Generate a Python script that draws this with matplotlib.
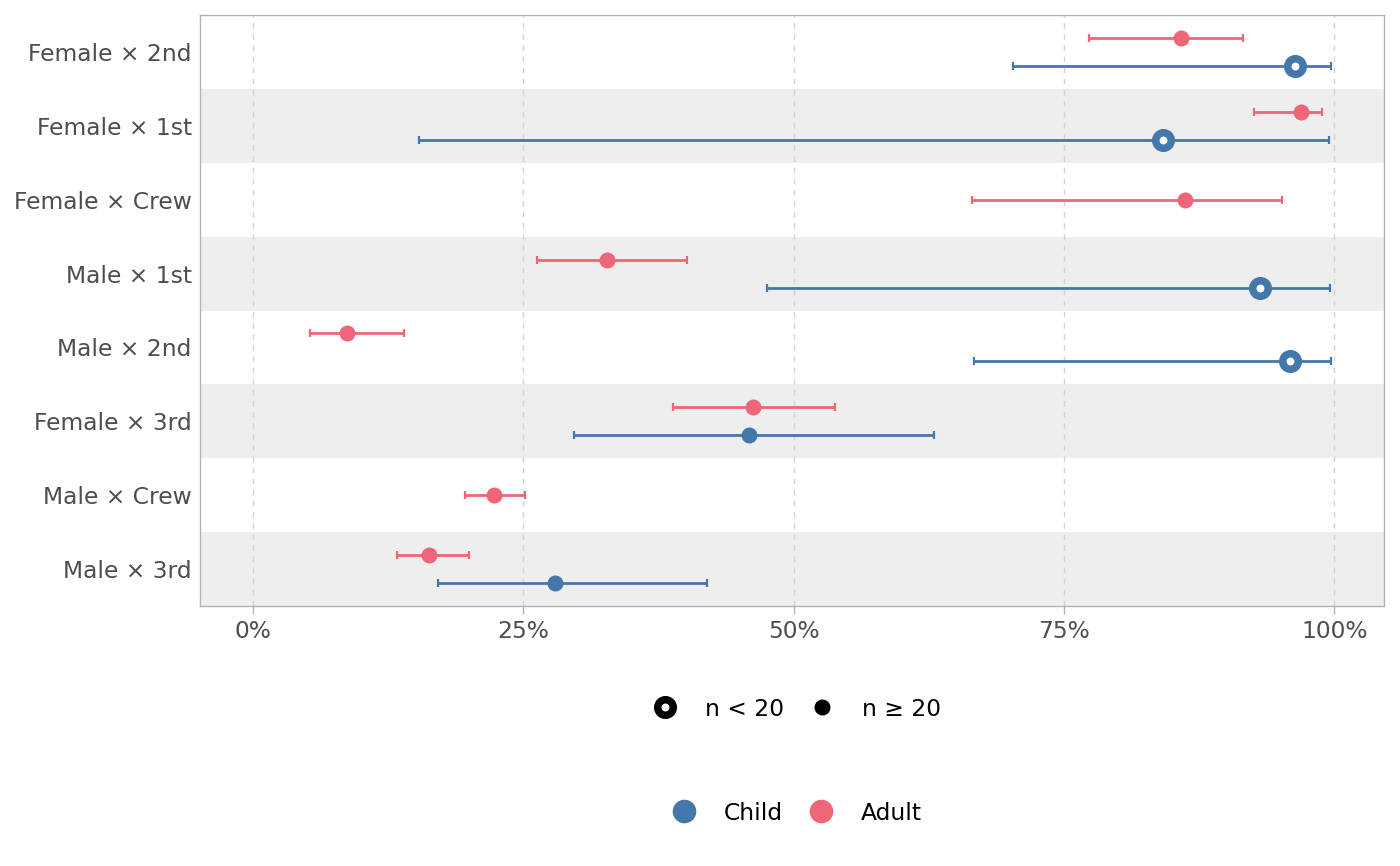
import matplotlib
matplotlib.use("Agg")
import matplotlib.pyplot as plt
from matplotlib.lines import Line2D
import numpy as np

plt.rcParams['font.family'] = ['DejaVu Sans']

categories = ["Female × 2nd", "Female × 1st", "Female × Crew", "Male × 1st",
              "Male × 2nd", "Female × 3rd", "Male × Crew", "Male × 3rd"]

adult_est = [0.858, 0.969, 0.862, 0.327, 0.087, 0.462, 0.223, 0.163]
adult_lo  = [0.773, 0.926, 0.665, 0.263, 0.053, 0.388, 0.196, 0.133]
adult_hi  = [0.916, 0.989, 0.952, 0.401, 0.140, 0.538, 0.252, 0.200]

child_est = [0.964, 0.842, None, 0.931, 0.959, 0.459, None, 0.279]
child_lo  = [0.703, 0.154, None, 0.475, 0.667, 0.297, None, 0.171]
child_hi  = [0.997, 0.995, None, 0.996, 0.997, 0.630, None, 0.420]
child_small_n = [True, True, None, True, True, False, None, False]

x_ticks = [0, 0.25, 0.5, 0.75, 1.0]
x_ticklabels = ["0%", "25%", "50%", "75%", "100%"]

BLUE = "#4477AA"
RED = "#EE6677"
DPI = 100
FS = 16.8
fig = plt.figure(figsize=(14, 8.66), dpi=DPI)
ax = fig.add_axes([200/1400, 1 - 606/866, (1384-200)/1400, (606-15)/866])

n = len(categories)
ypos = np.arange(n, 0, -1)  # top row = n
dodge = 0.19

# alternating bands
for i, y in enumerate(ypos):
    if i % 2 == 1:
        ax.axhspan(y - 0.5, y + 0.5, color="#EEEEEE", lw=0, zorder=0)

for xt in x_ticks:
    ax.axvline(xt, color="#D3D3D3", lw=1.0, ls=(0, (4, 4)), zorder=1)

lw = 2.0
caps = 3.0
for i, y in enumerate(ypos):
    has_child = child_est[i] is not None
    ya = y + dodge if has_child else y
    # adult
    ax.errorbar([adult_est[i]], [ya],
                xerr=[[adult_est[i] - adult_lo[i]], [adult_hi[i] - adult_est[i]]],
                fmt='none', ecolor=RED, elinewidth=lw, capsize=caps, capthick=1.6, zorder=3)
    ax.plot([adult_est[i]], [ya], 'o', color=RED, ms=11.5, mew=0, zorder=4)
    if has_child:
        yc = y - dodge
        ax.errorbar([child_est[i]], [yc],
                    xerr=[[child_est[i] - child_lo[i]], [child_hi[i] - child_est[i]]],
                    fmt='none', ecolor=BLUE, elinewidth=lw, capsize=caps, capthick=1.6, zorder=3)
        if child_small_n[i]:
            ax.plot([child_est[i]], [yc], 'o', mfc='white', mec=BLUE, ms=11.2, mew=5.4, zorder=4)
        else:
            ax.plot([child_est[i]], [yc], 'o', color=BLUE, ms=11.5, mew=0, zorder=4)

ax.set_xlim(-0.049, 1.046)
ax.set_ylim(0.5, n + 0.5)
ax.set_yticks(ypos)
ax.set_yticklabels(categories)
ax.set_xticks(x_ticks)
ax.set_xticklabels(x_ticklabels)
ax.tick_params(axis='y', length=0, pad=6, labelsize=FS, labelcolor="#4D4D4D")
ax.tick_params(axis='x', length=6, width=1, color="#B3B3B3", pad=4, labelsize=FS, labelcolor="#4D4D4D")
for s in ax.spines.values():
    s.set_color("#B3B3B3")
    s.set_linewidth(1.0)

# legends
h1 = [Line2D([], [], ls='none', marker='o', mfc='white', mec='black', ms=11.2, mew=5.4),
      Line2D([], [], ls='none', marker='o', color='black', ms=11.5, mew=0)]
leg1 = fig.legend(h1, ["n < 20", "n ≥ 20"], loc='center', bbox_to_anchor=(797/1400, 1 - 709/866),
                  ncol=2, frameon=False, fontsize=FS, handlelength=1.0, handletextpad=1.2,
                  columnspacing=1.15)
h2 = [Line2D([], [], ls='none', marker='o', color=BLUE, ms=17, mew=0),
      Line2D([], [], ls='none', marker='o', color=RED, ms=17, mew=0)]
leg2 = fig.legend(h2, ["Child", "Adult"], loc='center', bbox_to_anchor=(797/1400, 1 - 813/866),
                  ncol=2, frameon=False, fontsize=FS, handlelength=1.0, handletextpad=1.2,
                  columnspacing=1.15)

fig.savefig("out.png", dpi=DPI)
